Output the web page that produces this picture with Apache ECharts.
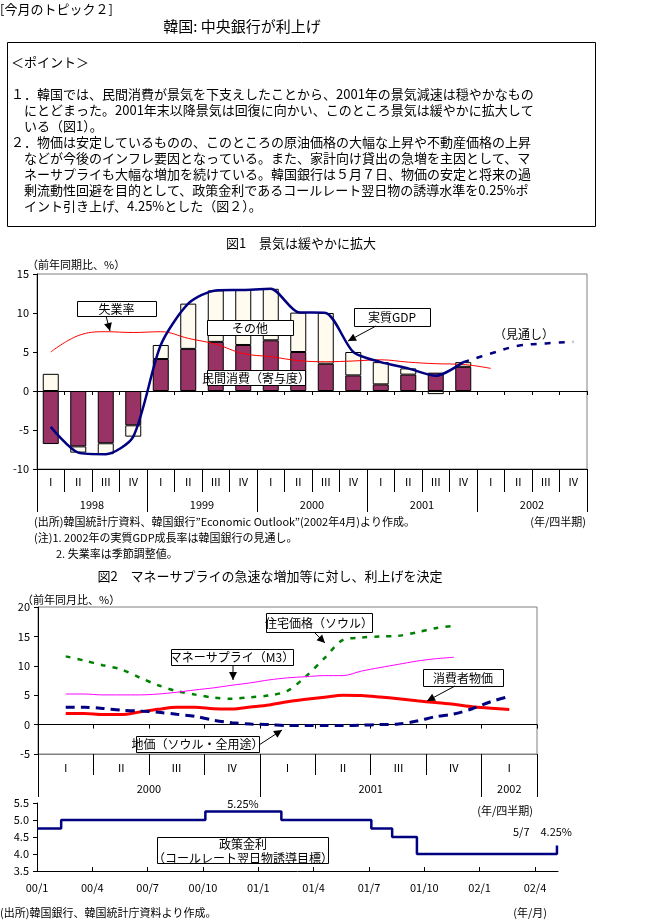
<!DOCTYPE html>
<html><head><meta charset="utf-8">
<script src="https://cdn.jsdelivr.net/npm/echarts@6/dist/echarts.min.js"></script>
<style>html,body{margin:0;padding:0;background:#fff}#c{width:650px;height:920px}</style>
</head><body><div id="c"></div>
<script>
// ---------- Figure 1 data (quarterly, 1998Q1 - 2002Q4) ----------
const quarterLabels = ['Ⅰ','Ⅱ','Ⅲ','Ⅳ','Ⅰ','Ⅱ','Ⅲ','Ⅳ','Ⅰ','Ⅱ','Ⅲ','Ⅳ','Ⅰ','Ⅱ','Ⅲ','Ⅳ','Ⅰ','Ⅱ','Ⅲ','Ⅳ'];
const yearLabels1 = ['1998','1999','2000','2001','2002'];
const consumption = [-6.8,-7.1,-6.7,-4.4, 4.1,5.4,6.3,5.9, 6.5,5.0,3.5,2.0, 0.85,2.1,2.35,3.1, null,null,null,null];
const others      = [2.2,-0.8,-1.4,-1.45, 1.8,5.8,6.6,7.05, 6.6,5.05,6.5,3.0, 2.85,0.8,-0.4,0.6, null,null,null,null];
const realGDP     = [-4.6,-7.9,-8.1,-5.85, 5.9,11.2,12.9,12.95, 13.1,10.1,10.0,5.0, 3.7,2.9,1.95,3.7, null,null,null,null];
const gdpOutlook  = [null,null,null,null, null,null,null,null, null,null,null,null, null,null,null,3.7, 4.8,5.8,6.1,6.3];
const unemployment= [5.0,7.1,7.6,7.5, 7.6,6.75,6.0,4.8, 4.4,3.9,3.75,3.85, 4.0,3.7,3.5,3.4, 2.9,null,null,null];

// ---------- Figure 2 data (monthly, 2000/1 - 2002/3) ----------
const months = ['00/1','00/2','00/3','00/4','00/5','00/6','00/7','00/8','00/9','00/10','00/11','00/12',
                '01/1','01/2','01/3','01/4','01/5','01/6','01/7','01/8','01/9','01/10','01/11','01/12',
                '02/1','02/2','02/3'];
const housing = [null, 11.6,10.9,10.1,9.4,8.0,6.7,5.7,5.1,4.6,4.4,4.65,4.95, 5.75,8.2,11.3,14.4,14.8,15.0,15.1,15.7,16.4,16.8, null,null,null,null];
const moneyM3 = [null, 5.2,5.2,5.05,5.05,5.05,5.2,5.5,5.9,6.25,6.7,7.1,7.6, 7.95,8.15,8.33,8.33,9.1,9.7,10.25,10.8,11.2,11.45, null,null,null,null];
const cpi     = [null, 1.87,1.87,1.7,1.7,2.15,2.6,2.95,2.95,2.7,2.66,3.0,3.35, 3.9,4.3,4.65,5.0,4.95,4.7,4.4,4.05,3.75,3.45,3.05,2.8,2.55, null];
const landPrice=[null, 2.95,2.95,2.75,2.45,2.3,2.1,1.75,1.4,0.75,0.3,0.1,0.0, -0.17,-0.17,-0.17,-0.17,-0.1,0.0,0.1,0.6,1.35,1.8,2.7,3.9,4.8, null];
const quarterLabels2 = ['Ⅰ','Ⅱ','Ⅲ','Ⅳ','Ⅰ','Ⅱ','Ⅲ','Ⅳ','Ⅰ'];
const yearLabels2 = ['','','','','2000','','','','','','','','2001','','','','','2002',''];

// ---------- Figure 3 data (policy rate) ----------
const rateDates  = ['2000-01-01','2000-02-10','2000-10-05','2001-02-08','2001-07-05','2001-08-09','2001-09-19','2002-05-07'];
const rateValues = [4.75, 5.0, 5.25, 5.0, 4.75, 4.5, 4.0, 4.25];

function monthIndex(s){
  const [y,m,d] = s.split('-').map(Number);
  const dim = new Date(y, m, 0).getDate();
  return (y-2000)*12 + (m-1) + (d-1)/dim;
}
const rateData = rateDates.map((d,i)=>[monthIndex(d), rateValues[i]]);

const FONT = '"Noto Sans CJK JP","Noto Sans",sans-serif';
const BLACK = '#000';

// ---------- annotation helpers ----------
const G = [];
function txt(x,y,t,size,align,extra){
  G.push(Object.assign({type:'text', x:x, y:y, z:100,
    style:{text:t, fill:BLACK, font: size+'px '+FONT, textAlign:align||'left', align:align||'left',
           textVerticalAlign:'middle', verticalAlign:'middle'}}, extra||{}));
}
function box(x,y,w,h,t,size){
  G.push({type:'rect', z:99, shape:{x:x+0.5,y:y+0.5,width:w,height:h}, style:{fill:'#fff', stroke:BLACK, lineWidth:1}});
  if (t!==undefined) txt(x+w/2, y+h/2+0.5, t, size||12, 'center');
}
function arrow(x1,y1,x2,y2){
  G.push({type:'line', z:100, shape:{x1:x1,y1:y1,x2:x2,y2:y2}, style:{stroke:BLACK, lineWidth:1}});
  const a = Math.atan2(y2-y1, x2-x1), L=8, W=4;
  const bx = x2 - L*Math.cos(a), by = y2 - L*Math.sin(a);
  G.push({type:'polygon', z:100, shape:{points:[[x2,y2],[bx+W*Math.sin(a), by-W*Math.cos(a)],[bx-W*Math.sin(a), by+W*Math.cos(a)]]}, style:{fill:BLACK}});
}

// header and text box
txt(0, 9, '[今月のトピック２]', 13);
txt(242, 26, '韓国: 中央銀行が利上げ', 15, 'center');
box(7, 42, 588, 184);
txt(11, 62, '＜ポイント＞', 13);
const bodyLines = [
  [11,'１．韓国では、民間消費が景気を下支えしたことから、2001年の景気減速は穏やかなもの'],
  [24,'にとどまった。2001年末以降景気は回復に向かい、このところ景気は緩やかに拡大して'],
  [24,'いる（図1）。'],
  [11,'２．物価は安定しているものの、このところの原油価格の大幅な上昇や不動産価格の上昇'],
  [24,'などが今後のインフレ要因となっている。また、家計向け貸出の急増を主因として、マ'],
  [24,'ネーサプライも大幅な増加を続けている。韓国銀行は５月７日、物価の安定と将来の過'],
  [24,'剰流動性回避を目的として、政策金利であるコールレート翌日物の誘導水準を0.25%ポ'],
  [24,'イント引き上げ、4.25%とした（図２）。']
];
bodyLines.forEach((l,i)=>txt(l[0], 94+i*16, l[1], 13));

// figure 1 texts
txt(301, 243, '図1　景気は緩やかに拡大', 13, 'center');
txt(27, 265, '（前年同期比、%）', 11);
box(77, 301, 79, 15, '失業率', 12);
arrow(106, 316, 110, 331);
box(207, 320, 86, 15, 'その他', 12);
box(207, 370, 98, 15, '民間消費（寄与度）', 12);
box(354, 308, 76, 18, '実質GDP', 12);
arrow(376, 326, 348, 341);
txt(524, 334, '（見通し）', 12, 'center');
txt(34, 522, '(出所)韓国統計庁資料、韓国銀行”Economic Outlook”(2002年4月)より作成。', 11);
txt(586, 522, '(年/四半期)', 11, 'right');
txt(34, 538, '(注)1. 2002年の実質GDP成長率は韓国銀行の見通し。', 11);
txt(56, 554, '2. 失業率は季節調整値。', 11);

// figure 2 texts
txt(270, 576, '図2　マネーサプライの急速な増加等に対し、利上げを決定', 13, 'center');
txt(22, 600, '（前年同月比、%）', 11);
box(266, 613, 106, 19, '住宅価格（ソウル）', 12);
arrow(314, 632, 325, 643);
box(171, 649, 122, 16, 'マネーサプライ（M3）', 12);
arrow(233, 665, 233, 680);
box(423, 669, 80, 17, '消費者物価', 12);
arrow(455, 686, 427, 701);
box(136, 736, 123, 16, '地価（ソウル・全用途）', 12);
arrow(259, 745, 282, 730);
txt(533, 811, '(年/四半期)', 11, 'right');

// figure 3 texts
txt(243, 804, '5.25%', 11, 'center');
txt(572, 832, '5/7　4.25%', 11, 'right');
box(157, 837, 171, 26);
txt(243, 844, '政策金利', 12, 'center');
txt(243, 858, '（コールレート翌日物誘導目標）', 12, 'center');
txt(0, 913, '(出所)韓国銀行、韓国統計庁資料より作成。', 11);
txt(547, 913, '(年/月)', 11, 'right');

const lbl = {color:BLACK, fontSize:11, fontFamily:FONT};

const option = {
  animation:false,
  backgroundColor:'#fff',
  textStyle:{fontFamily:FONT},
  grid:[
    {left:37, top:274, width:550, height:195, show:true, borderColor:'#808080', borderWidth:1, backgroundColor:'transparent'},
    {left:38, top:607, width:499, height:147, show:true, borderColor:'#808080', borderWidth:1, backgroundColor:'transparent'},
    {left:37, top:803, width:521, height:68}
  ],
  xAxis:[
    // 0: fig1 zero line
    {type:'category', gridIndex:0, data:quarterLabels.slice(), position:'bottom',
     axisLine:{show:true, onZero:true, lineStyle:{color:BLACK, width:1}},
     axisTick:{show:true, interval:function(){return true;}, length:4, lineStyle:{color:BLACK}},
     axisLabel:{show:false}, splitLine:{show:false}},
    // 1: fig1 quarter row
    {type:'category', gridIndex:0, data:quarterLabels.slice(), position:'bottom',
     axisLine:{show:true, onZero:false, lineStyle:{color:BLACK}},
     axisTick:{show:true, interval:function(){return true;}, length:23, lineStyle:{color:BLACK}},
     axisLabel:Object.assign({show:true, interval:0, margin:7}, lbl), splitLine:{show:false}},
    // 2: fig1 year row
    {type:'category', gridIndex:0, data:yearLabels1, position:'bottom',
     axisLine:{show:false, onZero:false},
     axisTick:{show:true, interval:function(){return true;}, length:43, lineStyle:{color:BLACK}},
     axisLabel:Object.assign({show:true, interval:0, margin:30}, lbl), splitLine:{show:false}},
    // 3: fig2 monthly data axis on zero
    {type:'category', gridIndex:1, data:months, position:'bottom',
     axisLine:{show:true, onZero:true, lineStyle:{color:BLACK}},
     axisTick:{show:true, length:4, interval:function(i){return i%3===0;}, lineStyle:{color:BLACK}},
     axisLabel:{show:false}, splitLine:{show:false}},
    // 4: fig2 quarter row
    {type:'category', gridIndex:1, data:quarterLabels2, position:'bottom',
     axisLine:{show:true, onZero:false, lineStyle:{color:'#808080'}},
     axisTick:{show:true, interval:function(){return true;}, length:21, lineStyle:{color:BLACK}},
     axisLabel:Object.assign({show:true, interval:0, margin:8}, lbl), splitLine:{show:false}},
    // 5: fig2 year row
    {type:'category', gridIndex:1, data:yearLabels2, position:'bottom', boundaryGap:false,
     axisLine:{show:false, onZero:false},
     axisTick:{show:true, length:43, interval:function(i){return i===0||i===8||i===16||i===18;}, lineStyle:{color:BLACK}},
     axisLabel:Object.assign({show:true, interval:0, margin:29}, lbl), splitLine:{show:false}},
    // 6: fig3 monthly value axis
    {type:'value', gridIndex:2, min:0, max:28.25, interval:3,
     axisLine:{show:true, onZero:false, lineStyle:{color:BLACK}},
     axisTick:{show:true, inside:true, length:4, lineStyle:{color:BLACK}},
     axisLabel:Object.assign({margin:11, showMaxLabel:false, formatter:function(v){
        const r=Math.round(v); if(Math.abs(v-r)>1e-6 || r%3!==0) return '';
        const yy=Math.floor(r/12), m=r%12+1; return '0'+yy+'/'+m; }}, lbl),
     splitLine:{show:false}}
  ],
  yAxis:[
    {type:'value', gridIndex:0, min:-10, max:15, interval:5,
     axisLine:{show:true, onZero:false, lineStyle:{color:BLACK}},
     axisTick:{show:true, length:4, lineStyle:{color:BLACK}},
     axisLabel:Object.assign({margin:8}, lbl), splitLine:{show:false}},
    {type:'value', gridIndex:1, min:-5, max:20, interval:5,
     axisLine:{show:true, onZero:false, lineStyle:{color:BLACK}},
     axisTick:{show:true, length:4, lineStyle:{color:BLACK}},
     axisLabel:Object.assign({margin:8}, lbl), splitLine:{show:false}},
    {type:'value', gridIndex:2, min:3.5, max:5.5, interval:0.5,
     axisLine:{show:true, onZero:false, lineStyle:{color:BLACK}},
     axisTick:{show:true, length:4, lineStyle:{color:BLACK}},
     axisLabel:Object.assign({margin:8, formatter:function(v){return v.toFixed(1);}}, lbl), splitLine:{show:false}}
  ],
  series:[
    {name:'民間消費（寄与度）', type:'bar', xAxisIndex:0, yAxisIndex:0, stack:'gdp', data:consumption, barWidth:16,
     itemStyle:{color:'#993366', borderColor:BLACK, borderWidth:1}},
    {name:'その他', type:'bar', xAxisIndex:0, yAxisIndex:0, stack:'gdp', data:others, barWidth:16,
     itemStyle:{color:'#fffbee', borderColor:BLACK, borderWidth:1}},
    {name:'失業率', type:'line', xAxisIndex:0, yAxisIndex:0, data:unemployment, smooth:0.4, showSymbol:false,
     lineStyle:{color:'#ff0000', width:1}},
    {name:'実質GDP', type:'line', xAxisIndex:0, yAxisIndex:0, data:realGDP, smooth:0.25, showSymbol:false,
     lineStyle:{color:'#000080', width:2.5}},
    {name:'見通し', type:'line', xAxisIndex:0, yAxisIndex:0, data:gdpOutlook, smooth:0.4, showSymbol:false,
     lineStyle:{color:'#000080', width:2.5, type:[6,8]}},

    {name:'住宅価格（ソウル）', type:'line', xAxisIndex:3, yAxisIndex:1, data:housing, smooth:0.3, showSymbol:false,
     lineStyle:{color:'#008000', width:2.5, type:[5,7]}},
    {name:'マネーサプライ（M3）', type:'line', xAxisIndex:3, yAxisIndex:1, data:moneyM3, smooth:0.3, showSymbol:false,
     lineStyle:{color:'#ff00ff', width:1}},
    {name:'消費者物価', type:'line', xAxisIndex:3, yAxisIndex:1, data:cpi, smooth:0.3, showSymbol:false,
     lineStyle:{color:'#ff0000', width:3}},
    {name:'地価（ソウル・全用途）', type:'line', xAxisIndex:3, yAxisIndex:1, data:landPrice, smooth:0.3, showSymbol:false,
     lineStyle:{color:'#000080', width:3, type:[9,6]}},

    {name:'政策金利', type:'line', xAxisIndex:6, yAxisIndex:2, data:rateData, step:'end', showSymbol:false,
     lineStyle:{color:'#000080', width:2.5}}
  ],
  graphic:{elements:G}
};

const chart = echarts.init(document.getElementById('c'), null, {renderer:'canvas'});
chart.setOption(option);
</script>
</body></html>
